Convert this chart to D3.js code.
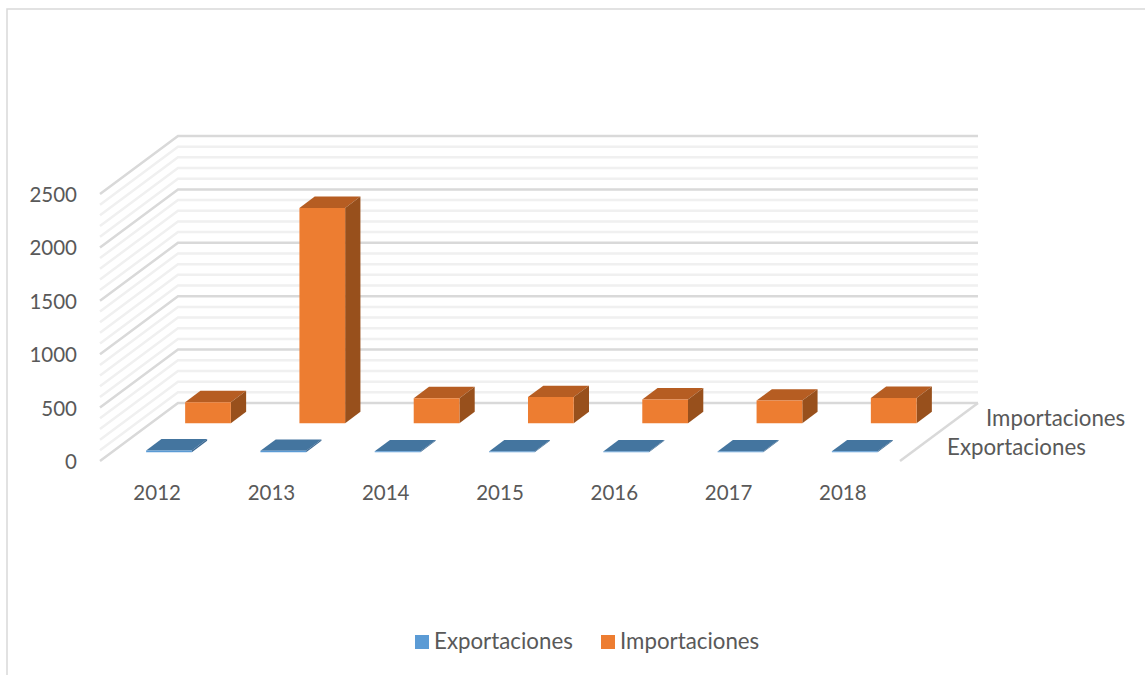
<!DOCTYPE html>
<html>
<head>
	<title></title>
	<script src="https://d3js.org/d3.v7.min.js"></script>
	<style>
		html, body { margin: 0; padding: 0; background: #fff; }
		svg { display: block; }
		text { font-family: Lato, "Open Sans", sans-serif; fill: #595959; }
	</style>
</head>
<body>

<script>

var years = ['2012', '2013', '2014', '2015', '2016', '2017', '2018']
var seriesNames = ['Exportaciones', 'Importaciones']
var exportaciones = [16, 13, 8, 7, 7, 7, 8]
var importaciones = [197, 2015, 234, 245, 222, 212, 236]
var yTicks = [0, 500, 1000, 1500, 2000, 2500]
var yMinorTicks = d3.range(0, 2501, 100)

var seriesColors = {
	'Exportaciones': {front: '#5b9bd5', top: '#44759f', side: '#3a6791'},
	'Importaciones': {front: '#ed7d31', top: '#b65d22', side: '#98501c'}
}

var width = 1145
var height = 675

var svg = d3.select('body').append('svg')
	.attr('width', width)
	.attr('height', height)

// front plane of the 3d box, the depth is added on top of it
var floorY = 461
var depthX = 78
var depthY = -58

var x = d3.scaleBand()
	.domain(years)
	.range([100, 900])
	.paddingInner(0.6)
	.paddingOuter(0.3)

var y = d3.scaleLinear()
	.domain([0, 2500])
	.range([floorY, 194])

var z = d3.scaleBand()
	.domain(seriesNames)
	.range([0, 1])
	.paddingInner(0.608)
	.paddingOuter(0.304)

function px(xv, zv) { return xv + zv * depthX }
function py(yv, zv) { return yv + zv * depthY }

function poly(points) {
	return points.map(function(p) { return px(p[0], p[2]) + ',' + py(p[1], p[2]) }).join(' ')
}

// frame
svg.append('path')
	.attr('d', d3.line()([[7, height], [7, 9], [width, 9]]))
	.attr('fill', 'none')
	.attr('stroke', '#d9d9d9')
	.attr('stroke-width', 1.5)

// grid, minor first so the major ones stay on top
function drawGrid(values, color, strokeWidth) {
	var g = svg.append('g')
	g.selectAll('path')
		.data(values)
		.enter().append('path')
		.attr('fill', 'none')
		.attr('stroke', color)
		.attr('stroke-width', strokeWidth)
		.attr('d', function(d) {
			return d3.line()([
				[px(100, 0), py(y(d), 0)],
				[px(100, 1), py(y(d), 1)],
				[px(900, 1), py(y(d), 1)]
			])
		})
}

drawGrid(yMinorTicks.filter(function(d) { return yTicks.indexOf(d) < 0 }), '#f0f0f0', 2.5)
drawGrid(yTicks, '#d9d9d9', 2.5)

svg.append('path')
	.attr('d', d3.line()([[px(900, 0), py(floorY, 0)], [px(900, 1), py(floorY, 1)]]))
	.attr('fill', 'none')
	.attr('stroke', '#d9d9d9')
	.attr('stroke-width', 2.5)

// bars, back series first
function drawBars(name, values) {
	var z0 = z(name)
	var z1 = z0 + z.bandwidth()
	var c = seriesColors[name]
	var g = svg.append('g').attr('class', name)
	var bars = g.selectAll('g')
		.data(values)
		.enter().append('g')

	function corners(d, i) {
		return {x0: x(years[i]), x1: x(years[i]) + x.bandwidth(), b: y(0), t: y(d)}
	}

	bars.append('polygon')
		.attr('fill', c.top)
		.attr('points', function(d, i) {
			var k = corners(d, i)
			return poly([[k.x0, k.t, z0], [k.x1, k.t, z0], [k.x1, k.t, z1], [k.x0, k.t, z1]])
		})
	bars.append('polygon')
		.attr('fill', c.side)
		.attr('points', function(d, i) {
			var k = corners(d, i)
			return poly([[k.x1, k.b, z0], [k.x1, k.t, z0], [k.x1, k.t, z1], [k.x1, k.b, z1]])
		})
	bars.append('polygon')
		.attr('fill', c.front)
		.attr('points', function(d, i) {
			var k = corners(d, i)
			return poly([[k.x0, k.b, z0], [k.x1, k.b, z0], [k.x1, k.t, z0], [k.x0, k.t, z0]])
		})
}

drawBars('Importaciones', importaciones)
drawBars('Exportaciones', exportaciones)

// axes
var yAxis = svg.append('g')
	.attr('transform', 'translate(100,1)')
	.call(d3.axisLeft(y).tickValues(yTicks).tickFormat(d3.format('d')).tickSize(0).tickPadding(23))
var xAxis = svg.append('g')
	.attr('transform', 'translate(0,' + floorY + ')')
	.call(d3.axisBottom(x).tickSize(0).tickPadding(24))

yAxis.select('.domain').remove()
xAxis.select('.domain').remove()
yAxis.selectAll('text').style('font-family', 'Lato').style('font-size', '20.5px').attr('fill', '#595959')
xAxis.selectAll('text').style('font-family', 'Lato').style('font-size', '20.5px').attr('fill', '#595959')

// depth labels
svg.append('text').attr('x', 986).attr('y', 426).style('font-size', '22.3px').text('Importaciones')
svg.append('text').attr('x', 947).attr('y', 455).style('font-size', '22.3px').text('Exportaciones')

// legend
var legendX = d3.scaleOrdinal().domain(seriesNames).range([415, 601])

var legend = svg.append('g')
	.selectAll('g')
	.data(seriesNames)
	.enter().append('g')
	.attr('transform', function(d) { return 'translate(' + legendX(d) + ',635)' })

legend.append('rect')
	.attr('width', 14)
	.attr('height', 14)
	.attr('fill', function(d) { return seriesColors[d].front })

legend.append('text')
	.attr('x', 19)
	.attr('y', 14)
	.style('font-size', '22.3px')
	.text(function(d) { return d })

</script>

</body>
</html>
